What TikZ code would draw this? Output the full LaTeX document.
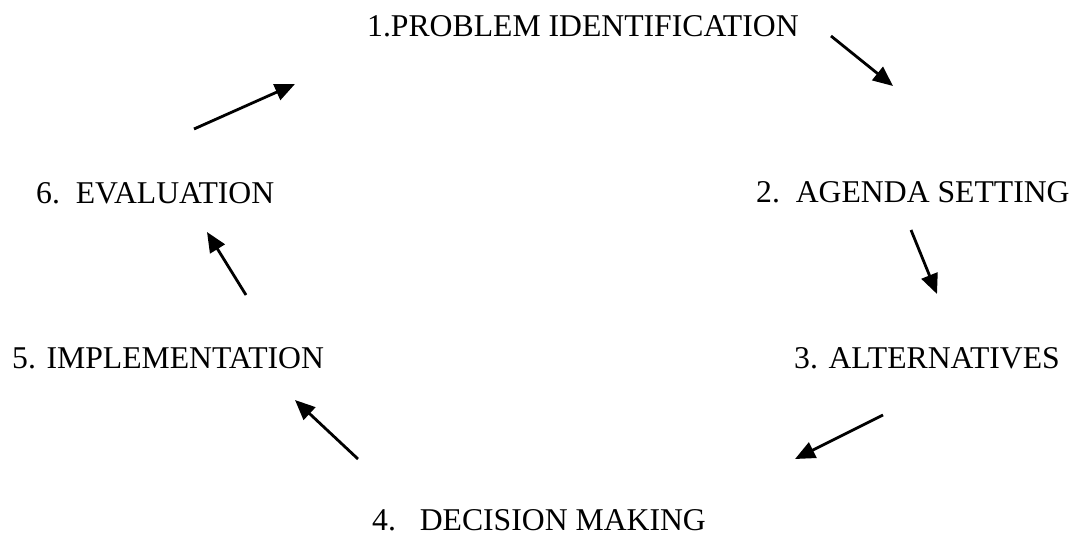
\documentclass[tikz,border=0pt]{standalone}
\usepackage{fontspec}
\setmainfont{Liberation Serif}
\usetikzlibrary{arrows.meta}

\begin{document}
\begin{tikzpicture}[x=1pt, y=-1pt,
      every node/.style={inner sep=0pt, anchor=base west, font=\fontsize{31.7}{36}\selectfont},
      arr/.style={-{Triangle[length=20pt, width=17pt]}, line width=2.8pt}]
      \useasboundingbox (0,0) rectangle (1073,535);

      % Define stages
      \node (problem) at (367,37) {1.PROBLEM IDENTIFICATION};
      \node (agenda) at (756,202) {2.\ \ AGENDA SETTING};
      \node (altern) at (794,368) {3. ALTERNATIVES};
      \node (decision) at (372,530) {4.\ \ \ DECISION MAKING};
      \node (implem) at (12,368) {5. IMPLEMENTATION};
      \node (evaluation) at (36,203) {6.\ \ EVALUATION};

      % Arrow ends
      \coordinate (s1) at (831,36);  \coordinate (e1) at (893,86);
      \coordinate (s2) at (911,230); \coordinate (e2) at (937,294);
      \coordinate (s3) at (883,415); \coordinate (e3) at (795,459);
      \coordinate (s4) at (358,459); \coordinate (e4) at (295,400);
      \coordinate (s5) at (246,295); \coordinate (e5) at (207,232);
      \coordinate (s6) at (194,129); \coordinate (e6) at (295,84);

      % Connect stages with arrows to represent the cycle
      \draw[arr] (s1) -- (e1);
      \draw[arr] (s2) -- (e2);
      \draw[arr] (s3) -- (e3);
      \draw[arr] (s4) -- (e4);
      \draw[arr] (s5) -- (e5);
      \draw[arr] (s6) -- (e6);
    \end{tikzpicture}
\end{document}
